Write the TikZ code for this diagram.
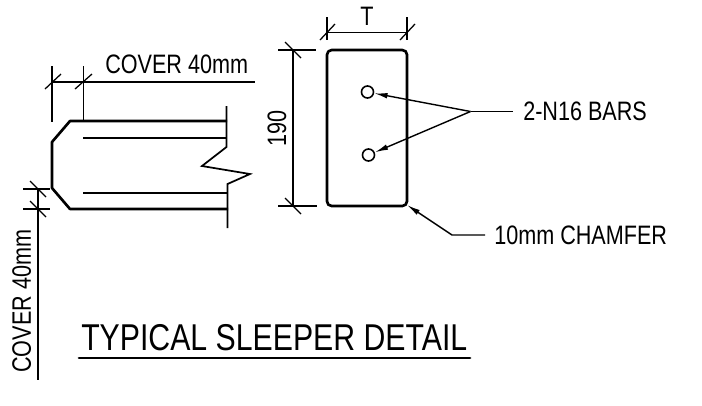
\documentclass[tikz,border=0pt]{standalone}
\usepackage{fontspec}
\setmainfont[FakeStretch=0.81]{Liberation Sans}
\usetikzlibrary{arrows.meta}
\tikzset{
 thick line/.style={line width=2pt,line join=round},
 mid line/.style={line width=1.3pt},
 thin line/.style={line width=0.95pt},
 lead/.style={line width=1.05pt},
 dimtext/.style={inner sep=0pt,font=\fontsize{20pt}{22pt}\selectfont},
 titletext/.style={inner sep=0pt,font=\fontsize{28pt}{30pt}\selectfont},
 tip/.style={-{Latex[length=10pt,width=4.2pt]}},
}
\begin{document}
\begin{tikzpicture}[x=0.75pt,y=-0.75pt]
\useasboundingbox (0,0) rectangle (702,405);
\fill[white] (0,0) rectangle (702,405);
% left section
\draw[thick line] (227,121) -- (70,121) -- (52,142) -- (52,188) -- (70,209) -- (228,209);
\draw[mid line] (83,138) -- (227,138);
\draw[mid line] (83,193) -- (228,193);
\draw[mid line,line join=miter] (226.5,106) -- (226.5,147) -- (202,166) -- (250,174) -- (227.5,184) -- (227.5,228);
% top cover dimension
\coordinate (c1) at (52,82);
\coordinate (c3) at (255,82);
\draw[thin line] (c1) -- (c3);
\draw[thin line] (52,66) -- (52,122);
\draw[thin line] (83.5,66) -- (83.5,121);
\draw[thin line] (45,89) -- (61,74);
\draw[thin line] (75,89) -- (92,74);
\node[dimtext,anchor=base west] (covtop) at (105,73.5) {COVER 40mm};
% left cover dimension
\draw[thin line] (23,189) -- (50,189);
\draw[thin line] (23,209) -- (50,209);
\draw[thin line] (38,189) -- (38,380);
\draw[thin line] (30,181) -- (46,197);
\draw[thin line] (30,201) -- (46,217);
\node[dimtext,anchor=base west,rotate=90] (covleft) at (31,373) {COVER 40mm};
% right section
\draw[thick line,rounded corners=3.5] (327,50) rectangle (407,206);
\draw[thin line] (327,32.5) -- (407,32.5);
\draw[thin line] (327,17) -- (327,40);
\draw[thin line] (407,17) -- (407,40);
\draw[thin line] (320,40) -- (335,24);
\draw[thin line] (400,40) -- (415,24);
\node[dimtext,anchor=base] (tlabel) at (367,25) {T};
\draw[thin line] (293,50) -- (293,206);
\draw[thin line] (278,50) -- (316,50);
\draw[thin line] (278,206) -- (317,206);
\draw[thin line] (285,42) -- (301,58);
\draw[thin line] (285,198) -- (301,214);
\node[dimtext,anchor=base,rotate=90] (hlabel) at (286,128.5) {190};
% bars
\node[circle,draw,line width=1.2pt,minimum size=9pt,inner sep=0pt] (b1) at (367.5,92) {};
\node[circle,draw,line width=1.2pt,minimum size=9pt,inner sep=0pt] (b2) at (368.5,155) {};
\coordinate (j) at (470.5,111.5);
\draw[lead,tip] (j) -- (b1);
\draw[lead,tip] (j) -- (b2);
\coordinate (jend) at (513,111.5);
\draw[lead] (j) -- (jend);
\node[dimtext,anchor=base west] (barlabel) at (523,120.7) {2-N16 BARS};
% chamfer
\coordinate (k) at (452,235);
\coordinate (corner) at (407,205);
\coordinate (kend) at (485,235);
\draw[lead,tip] (kend) -- (k) -- (corner);
\node[dimtext,anchor=base west] (chlabel) at (494,244.7) {10mm CHAMFER};
% title
\node[titletext,anchor=base west] (title) at (81,350.7) {TYPICAL SLEEPER DETAIL};
\draw[line width=2pt,line cap=round] (79,358) -- (470,358);
\end{tikzpicture}
\end{document}
